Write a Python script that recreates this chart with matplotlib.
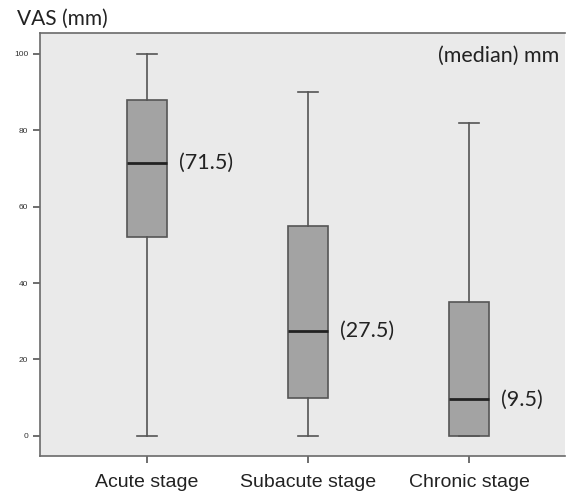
import matplotlib
matplotlib.use("Agg")
import matplotlib.pyplot as plt

# box statistics (mm)
stages = ["Acute stage", "Subacute stage", "Chronic stage"]
whislo = [0, 0, 0]
q1 = [52, 10, 0]
med = [71.5, 27.5, 9.5]
q3 = [88, 55, 35]
whishi = [100, 90, 82]
med_labels = ["(71.5)", "(27.5)", "(9.5)"]
yticks = [0, 20, 40, 60, 80, 100]

stats = []
for i in range(len(stages)):
    stats.append({"whislo": whislo[i], "q1": q1[i], "med": med[i],
                  "q3": q3[i], "whishi": whishi[i], "fliers": []})

fig = plt.figure(figsize=(5.75, 4.97), dpi=100)
ax = fig.add_axes([0.0696, 0.0825, 0.9134, 0.8511])
ax.set_facecolor("#eaeaea")

edge = "#555555"
ax.bxp(stats, positions=[1, 2, 3], widths=0.25, patch_artist=True,
       showfliers=False,
       boxprops=dict(facecolor="#a3a3a3", edgecolor=edge, linewidth=1.2),
       medianprops=dict(color="#222222", linewidth=2),
       whiskerprops=dict(color=edge, linewidth=1.2),
       capprops=dict(color=edge, linewidth=1.2),
       capwidths=0.125)

ax.set_xlim(0.335, 3.596)
ax.set_ylim(-5.3, 105.5)
ax.set_yticks(yticks)
ax.set_yticklabels([str(t) for t in yticks], fontsize=6,
                   family=["Liberation Sans", "DejaVu Sans"], color="#333333")
ax.set_xticks([1, 2, 3])
ax.set_xticklabels(stages, fontsize=14,
                   family=["Liberation Sans", "DejaVu Sans"],
                   color="#222222")
ax.tick_params(axis="both", direction="out", length=5, width=1.2, color=edge)
ax.tick_params(axis="x", pad=8)

for side in ["left", "bottom", "top"]:
    ax.spines[side].set_color("#6a6a6a")
    ax.spines[side].set_linewidth(1.2)
ax.spines["right"].set_visible(False)

txt_font = ["Lato", "DejaVu Sans"]
for i, lab in enumerate(med_labels):
    ax.text(i + 1 + 0.2, med[i], lab, fontsize=15.5, family=txt_font,
            color="#222222", va="center", ha="left")
ax.text(3.56, 99.5, "(median) mm", fontsize=15.5, family=txt_font,
        color="#222222", va="center", ha="right")

fig.text(0.03, 0.963, "VAS (mm)", fontsize=15, family=txt_font,
         color="#222222", va="center", ha="left")

fig.savefig("out.png", dpi=100, facecolor="white")
